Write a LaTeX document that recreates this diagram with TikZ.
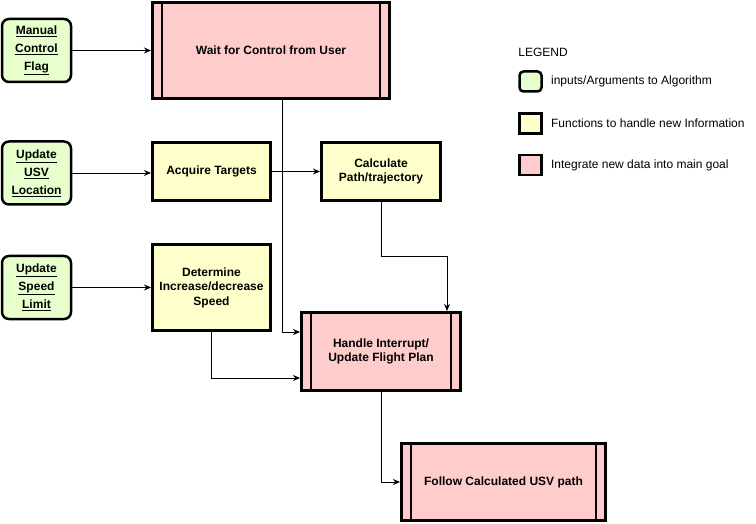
\documentclass[tikz,border=0pt]{standalone}
\usepackage{fontspec}
\setmainfont{Liberation Sans}
\usetikzlibrary{arrows.meta, positioning, calc}

\definecolor{inputgreen}{HTML}{E6FFCC}
\definecolor{funcyellow}{HTML}{FFFFCC}
\definecolor{goalpink}{HTML}{FFCCCC}

\begin{document}
\begin{tikzpicture}[
    x=1pt, y=-1pt,
    >={Stealth[length=7pt,width=6pt]},
    line width=0.8pt,
    every node/.style={font=\fontsize{12}{14.5}\selectfont},  % base font size
    node distance=8pt
]

% Styles for the three kinds of boxes
\tikzset{
    inputbox/.style={
        draw, fill=inputgreen, line width=2.5pt, rounded corners=7pt,
        align=center, inner sep=2pt,
        minimum width=69pt, minimum height=63pt,
        font=\bfseries\fontsize{12}{18}\selectfont
    },
    funcbox/.style={
        draw, fill=funcyellow, line width=3pt,
        align=center, inner sep=2pt,
        font=\bfseries\fontsize{12}{14.5}\selectfont
    },
    goalbox/.style={
        draw, fill=goalpink, line width=3pt,
        align=center, inner sep=2pt,
        font=\bfseries\fontsize{12}{14.5}\selectfont,
        path picture={
            \draw[line width=2pt] ([xshift=9.5pt]path picture bounding box.north west) -- ([xshift=9.5pt]path picture bounding box.south west);
            \draw[line width=2pt] ([xshift=-9.5pt]path picture bounding box.north east) -- ([xshift=-9.5pt]path picture bounding box.south east);
        }
    },
    legendbox/.style={
        draw, line width=2.5pt, minimum width=22pt, minimum height=20pt, inner sep=0pt
    },
    legendtext/.style={anchor=west, inner sep=0pt}
}

\useasboundingbox (0,0) rectangle (756,524);

% Inputs (left column)
\node[inputbox] (manual) at (36.5,50.5) {\underline{Manual}\\\underline{Control}\\\underline{Flag}};
\node[inputbox] (usv) at (36.5,173) {\underline{Update}\\\underline{USV}\\\underline{Location}};
\node[inputbox] (speed) at (36.5,287.5) {\underline{Update}\\\underline{Speed}\\\underline{Limit}};

% Main goal boxes
\node[goalbox, minimum width=237pt, minimum height=96pt] (wait) at (271,50.5) {Wait for Control from User};
\node[goalbox, minimum width=159pt, minimum height=78pt] (handle) at (381,351.5) {Handle Interrupt/\\Update Flight Plan};
\node[goalbox, minimum width=204pt, minimum height=77pt] (follow) at (503.5,482) {Follow Calculated USV path};

% Functions
\node[funcbox, minimum width=118pt, minimum height=58pt] (acquire) at (211.5,171.5) {Acquire Targets};
\node[funcbox, minimum width=119pt, minimum height=58pt] (calc) at (381,171.5) {Calculate\\Path/trajectory};
\node[funcbox, minimum width=118pt, minimum height=86pt] (determine) at (211.5,287.5) {Determine\\Increase/decrease\\Speed};

% Connectors
\draw[->] (manual.east) -- (manual.east -| wait.west);
\draw[->] (usv.east) -- (usv.east -| acquire.west);
\draw[->] (speed.east) -- (speed.east -| determine.west);
\draw[->] (acquire.east) -- (calc.west);
\draw[->] ([xshift=11pt]wait.south) |- ([yshift=19.5pt]handle.west);
\draw[->] (calc.south) -- ++(0,54) -| ([xshift=66pt]handle.north);
\draw[->] (determine.south) |- ([yshift=-26.5pt]handle.west);
\draw[->] (handle.south) |- (follow.west);

% Legend
\node[anchor=west, inner sep=0pt] (legend) at (518,52) {LEGEND};
\node[legendbox, fill=inputgreen, rounded corners=4pt] (leginput) at (530.5,81.5) {};
\node[legendbox, fill=funcyellow] (legfunc) at (530.5,123.5) {};
\node[legendbox, fill=goalpink] (leggoal) at (530.5,165) {};
\node[legendtext, right=8pt of leginput] {inputs/Arguments to Algorithm};
\node[legendtext, right=8pt of legfunc] {Functions to handle new Information};
\node[legendtext, right=8pt of leggoal] {Integrate new data into main goal};

\end{tikzpicture}
\end{document}
